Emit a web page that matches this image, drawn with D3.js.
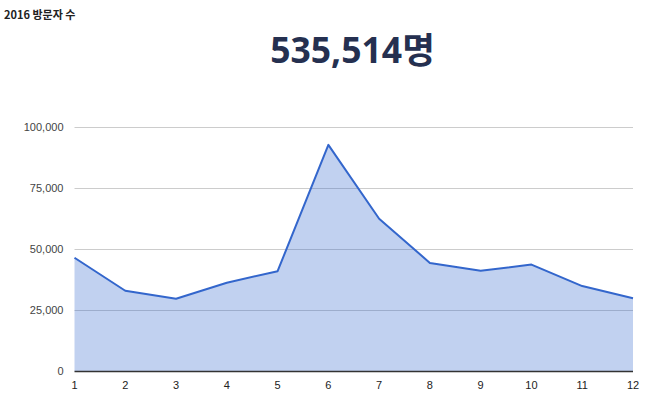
<!DOCTYPE html>
<html>
<head>
<meta charset="utf-8">
<script src="https://cdn.jsdelivr.net/npm/d3@7"></script>
<style>
  body { margin: 0; background: #fff; }
  svg { display: block; }
</style>
</head>
<body>
<div id="chart"></div>
<script>
// monthly visitors, 2016
var months = [1, 2, 3, 4, 5, 6, 7, 8, 9, 10, 11, 12];
var visitors = [46400, 32900, 29600, 36200, 40900, 92700, 62400, 44300, 41100, 43600, 34800, 29800];
var yTicks = [0, 25000, 50000, 75000, 100000];
var title = '2016 방문자 수';
var total = '535,514명';

var width = 650;
var height = 395;
var margin = {top: 127, right: 17, bottom: 24, left: 74.5};

var svg = d3.select('#chart').append('svg')
  .attr('width', width)
  .attr('height', height);

// title and big total
svg.append('text')
  .attr('x', 4).attr('y', 19)
  .attr('font-family', '"Noto Sans CJK KR", "Noto Sans", sans-serif')
  .attr('font-weight', 'bold')
  .attr('font-size', 11)
  .attr('fill', '#222')
  .text(title);

svg.append('text')
  .attr('x', 352.5).attr('y', 62.5)
  .attr('text-anchor', 'middle')
  .attr('font-family', '"Noto Sans", "Noto Sans CJK KR", sans-serif')
  .attr('font-weight', 'bold')
  .attr('font-size', 35.5)
  .attr('fill', '#253050')
  .text(total);

var x = d3.scaleLinear()
  .domain([1, 12])
  .range([margin.left, width - margin.right]);

var y = d3.scaleLinear()
  .domain([0, 100000])
  .range([height - margin.bottom, margin.top]);

// gridlines
svg.append('g').selectAll('line')
  .data(yTicks.slice(1))
  .join('line')
  .attr('x1', x(1)).attr('x2', x(12))
  .attr('y1', function (d) { return Math.round(y(d)) + 0.5; })
  .attr('y2', function (d) { return Math.round(y(d)) + 0.5; })
  .attr('stroke', '#ccc')
  .attr('stroke-width', 1);

var pts = months.map(function (m, i) { return [m, visitors[i]]; });

var area = d3.area()
  .x(function (d) { return x(d[0]); })
  .y0(y(0))
  .y1(function (d) { return y(d[1]); });

var line = d3.line()
  .x(function (d) { return x(d[0]); })
  .y(function (d) { return y(d[1]); });

svg.append('path')
  .datum(pts)
  .attr('d', area)
  .attr('fill', '#3366cc')
  .attr('fill-opacity', 0.3);

svg.append('path')
  .datum(pts)
  .attr('d', line)
  .attr('fill', 'none')
  .attr('stroke', '#3366cc')
  .attr('stroke-width', 2)
  .attr('stroke-linejoin', 'round');

// baseline
svg.append('line')
  .attr('x1', x(1)).attr('x2', x(12))
  .attr('y1', y(0) + 0.5).attr('y2', y(0) + 0.5)
  .attr('stroke', '#333')
  .attr('stroke-width', 1.5);

// y labels
svg.append('g').selectAll('text')
  .data(yTicks)
  .join('text')
  .attr('x', x(1) - 11)
  .attr('y', function (d) { return y(d) + 4; })
  .attr('text-anchor', 'end')
  .attr('font-family', '"Liberation Sans", Arial, sans-serif')
  .attr('font-size', 11)
  .attr('fill', '#444')
  .text(function (d) { return d3.format(',')(d); });

// x labels
svg.append('g').selectAll('text')
  .data(months)
  .join('text')
  .attr('x', function (d) { return x(d); })
  .attr('y', y(0) + 18)
  .attr('text-anchor', 'middle')
  .attr('font-family', '"Liberation Sans", Arial, sans-serif')
  .attr('font-size', 11)
  .attr('fill', '#222')
  .text(function (d) { return d; });
</script>
</body>
</html>
